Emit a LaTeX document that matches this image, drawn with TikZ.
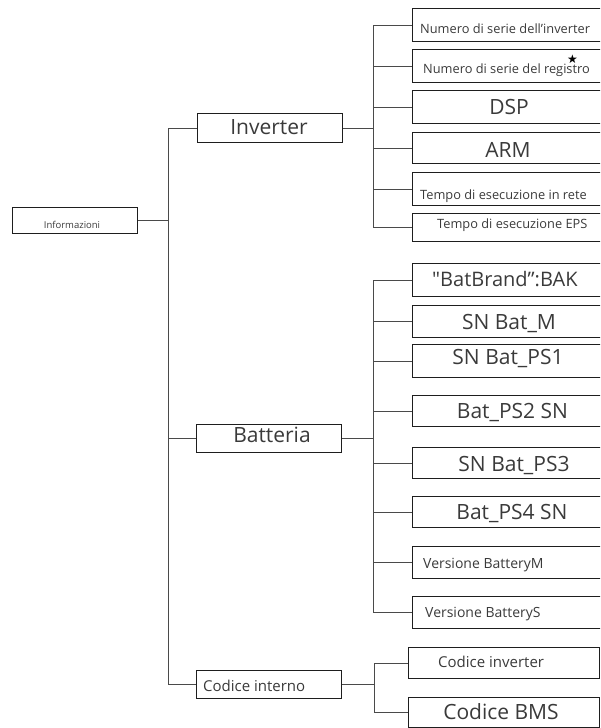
\documentclass[tikz,border=0pt]{standalone}
\usepackage{fontspec}
\setmainfont{Open Sans}
\newfontfamily\rawfont{Open Sans}[Ligatures=TeXOff]
\newfontfamily\symfont{DejaVu Sans}
\definecolor{boxc}{HTML}{1E1E1E}
\definecolor{wirec}{HTML}{4A4A4A}
\definecolor{txtc}{HTML}{3A3A3A}
\begin{document}
\begin{tikzpicture}[x=1pt,y=-1pt,
  box/.style={draw=boxc, line width=1.2pt, inner sep=0pt, anchor=north west},
  leaf/.style={box, minimum width=191pt},
  wire/.style={draw=wirec, line width=1pt},
  lbl/.style={inner sep=0pt, text=txtc, font=\fontsize{#1}{#1}\selectfont}]
\useasboundingbox (0,0) rectangle (600,728);
\clip (0,0) rectangle (600,728);

% level 0 and 1 boxes
\node[box, minimum width=125pt, minimum height=26pt] (info) at (12,207) {};
\node[box, minimum width=145pt, minimum height=29pt] (inv) at (197,113) {};
\node[box, minimum width=145pt, minimum height=28pt] (bat) at (196,424) {};
\node[box, minimum width=145pt, minimum height=28pt] (cod) at (196,670) {};

% inverter leaves
\node[leaf, minimum height=33pt] (l1) at (412,8) {};
\node[leaf, minimum height=33pt] (l2) at (412,49) {};
\node[leaf, minimum height=33pt] (l3) at (412,90) {};
\node[leaf, minimum height=31pt] (l4) at (412,132) {};
\node[leaf, minimum height=33pt] (l5) at (412,172) {};
\node[leaf, minimum height=28pt] (l6) at (412,213) {};

% battery leaves
\node[leaf, minimum height=33pt] (b1) at (412,263) {};
\node[leaf, minimum height=32pt] (b2) at (412,305) {};
\node[leaf, minimum height=33pt] (b3) at (412,344) {};
\node[leaf, minimum height=31pt] (b4) at (412,395) {};
\node[leaf, minimum height=31pt] (b5) at (412,447) {};
\node[leaf, minimum height=31pt] (b6) at (412,496) {};
\node[leaf, minimum height=32pt] (b7) at (412,546) {};
\node[leaf, minimum height=32pt] (b8) at (412,596) {};

% code leaves
\node[box, minimum width=191pt, minimum height=31pt] (c1) at (408,647) {};
\node[box, minimum width=191pt, minimum height=30pt] (c2) at (408,697) {};

% bus coordinates
\coordinate (mb) at (168,0);
\coordinate (ib) at (373,0);
\coordinate (bb) at (373,0);
\coordinate (cb) at (374,0);

% main bus
\draw[wire] (info.east) -- (mb |- info.east);
\draw[wire] (mb |- inv.west) -- (mb |- cod.west);
\foreach \n in {inv,bat,cod} \draw[wire] (mb |- \n.west) -- (\n.west);

% inverter bus
\draw[wire] (inv.east) -- (ib |- inv.east);
\draw[wire] (ib |- l1.west) -- (ib |- l6.west);
\foreach \n in {l1,l2,l3,l4,l5,l6} \draw[wire] (ib |- \n.west) -- (\n.west);

% battery bus
\draw[wire] (bat.east) -- (bb |- bat.east);
\draw[wire] (bb |- b1.west) -- (bb |- b8.west);
\foreach \n in {b1,b2,b3,b4,b5,b6,b7,b8} \draw[wire] (bb |- \n.west) -- (\n.west);

% code bus
\draw[wire] (cod.east) -- (cb |- cod.east);
\draw[wire] (cb |- c1.west) -- (cb |- c2.west);
\foreach \n in {c1,c2} \draw[wire] (cb |- \n.west) -- (\n.west);

% texts
\node[lbl=9.5] (tinfo) at (72,224.5) {Informazioni};
\node[lbl=21] (tinv) at (269,127) {Inverter};
\node[lbl=21] (tbat) at (272,434.5) {Batteria};
\node[lbl=15, anchor=west] (tcod) at (203,685.5) {Codice interno};

\node[lbl=12.8, anchor=west] (tl1) at (420,29) {Numero di serie dell'inverter};
\node[lbl=12.8, anchor=west] (tl2) at (423,70.5) {Numero di serie del registro};
\node[inner sep=0pt, font=\symfont\fontsize{12}{12}\selectfont] (star) at (572.5,59.5) {★};
\node[lbl=21] (tl3) at (509,106.5) {DSP};
\node[lbl=21] (tl4) at (508,149.5) {ARM};
\node[lbl=12.8, anchor=west] (tl5) at (420,196) {Tempo di esecuzione in rete};
\node[lbl=12.8, anchor=west] (tl6) at (437,225.5) {Tempo di esecuzione EPS};

\node[lbl=20, anchor=west] (tb1) at (432,279) {{\rawfont"}BatBrand”:BAK};
\node[lbl=21] (tb2) at (509,324) {SN Bat\_M};
\node[lbl=21] (tb3) at (508,359) {SN Bat\_PS1};
\node[lbl=21] (tb4) at (512.5,412.5) {Bat\_PS2 SN};
\node[lbl=21] (tb5) at (514,466) {SN Bat\_PS3};
\node[lbl=21] (tb6) at (512,514) {Bat\_PS4 SN};
\node[lbl=14, anchor=west] (tb7) at (423,565.5) {Versione BatteryM};
\node[lbl=14, anchor=west] (tb8) at (425,614.5) {Versione BatteryS};

\node[lbl=15, anchor=west] (tc1) at (438,661.5) {Codice inverter};
\node[lbl=21] (tc2) at (501,711.5) {Codice BMS};
\end{tikzpicture}
\end{document}
